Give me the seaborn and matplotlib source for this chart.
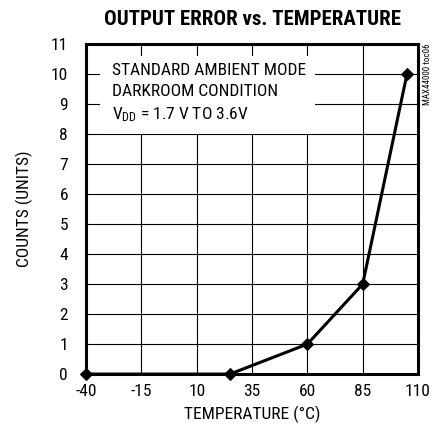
import matplotlib
matplotlib.use('Agg')
import matplotlib.pyplot as plt
from matplotlib.patches import Rectangle
import seaborn as sns
import pandas as pd

temperature = [-40, 25, 60, 85, 105]
counts = [0, 0, 1, 3, 10]
x_ticks = [-40, -15, 10, 35, 60, 85, 110]
y_ticks = list(range(0, 12))

df = pd.DataFrame({'temp': temperature, 'counts': counts})

sns.set_style('white')
plt.rcParams['font.family'] = ['Roboto Condensed', 'DejaVu Sans']
plt.rcParams['axes.unicode_minus'] = False
plt.rcParams['text.color'] = 'black'
plt.rcParams['axes.labelcolor'] = 'black'
plt.rcParams['xtick.color'] = 'black'
plt.rcParams['ytick.color'] = 'black'

fig = plt.figure(figsize=(4.35, 4.36), dpi=100)
ax = fig.add_axes([0.198, 0.142, 0.763, 0.757])

sns.lineplot(data=df, x='temp', y='counts', ax=ax, color='black', linewidth=2.2,
             marker='D', markersize=6, markeredgecolor='black', clip_on=False, zorder=5)

ax.set_xlim(-40, 110)
ax.set_ylim(0, 11)
ax.set_xticks(x_ticks)
ax.set_yticks(y_ticks)
ax.tick_params(axis='both', length=0, labelsize=12.5, pad=7)
ax.tick_params(axis='y', pad=13)
ax.grid(True, color='black', linewidth=0.8)
for s in ax.spines.values():
    s.set_color('black')
    s.set_linewidth(2.2)

ax.set_xlabel('TEMPERATURE (°C)', fontsize=12.5, labelpad=5)
ax.set_ylabel('COUNTS (UNITS)', fontsize=12.5, labelpad=13)
fig.text(0.58, 0.955, 'OUTPUT ERROR vs. TEMPERATURE', ha='center', va='center',
         fontsize=15, fontweight='bold')

# white box behind the condition note
ax.add_patch(Rectangle((-33.7, 8.0), 97.2, 2.6, facecolor='white', edgecolor='none', zorder=3))
ax.text(-28.3, 10.37, 'STANDARD AMBIENT MODE\nDARKROOM CONDITION\n$\\mathregular{V_{DD}}$ = 1.7 V TO 3.6V',
        fontsize=12.5, va='top', ha='left', linespacing=1.48, zorder=4)

fig.text(0.982, 0.83, 'MAX44000 toc06', rotation=90, fontsize=6.5, ha='center', va='center')

fig.savefig('out.png', dpi=100)
